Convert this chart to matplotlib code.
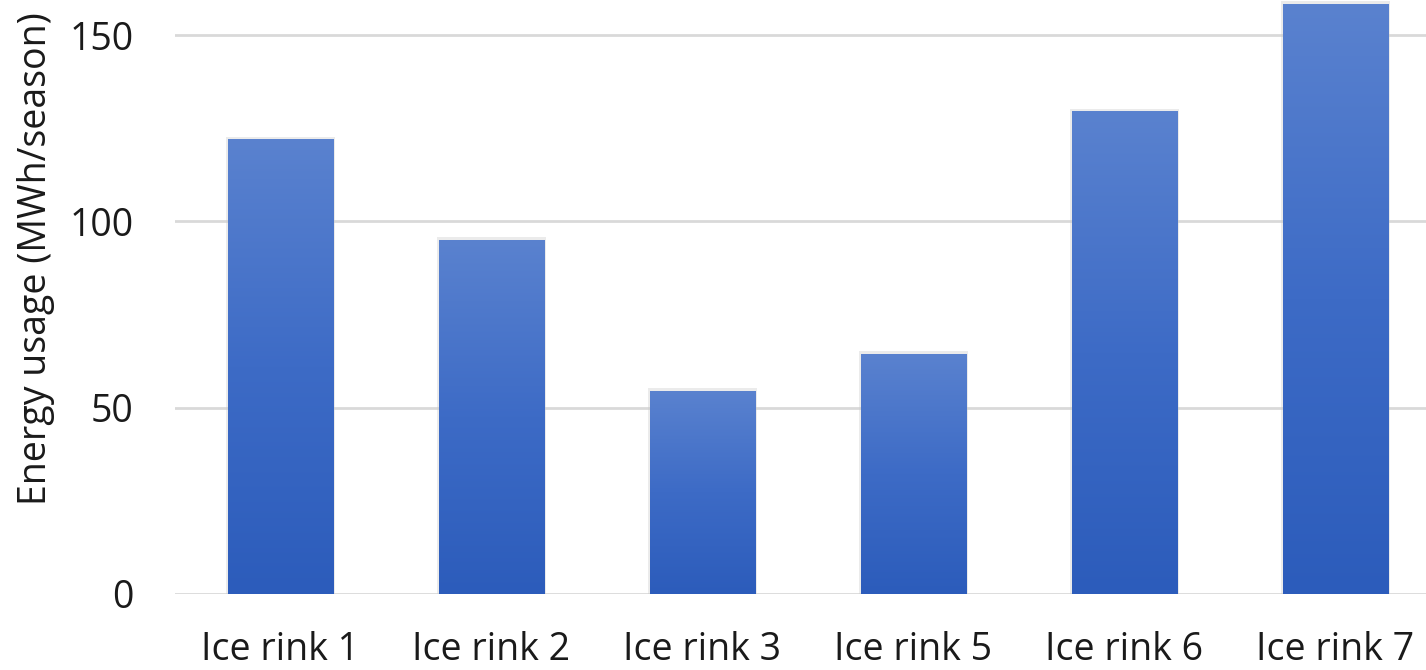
import numpy as np
import matplotlib.pyplot as plt
from matplotlib.colors import LinearSegmentedColormap

rinks = ["Ice rink 1", "Ice rink 2", "Ice rink 3", "Ice rink 5", "Ice rink 6", "Ice rink 7"]
energy = [122, 95, 54.5, 64.5, 129.5, 158.3]
yticks = [0, 50, 100, 150]

plt.rcParams['font.family'] = ['Open Sans', 'DejaVu Sans']

fig = plt.figure(figsize=(14.26, 6.70), dpi=100)
ax = fig.add_axes([175 / 1426, 76 / 670, 1 - 175 / 1426, 1 - 76 / 670])

grad = LinearSegmentedColormap.from_list("bar_grad", ["#2c5cbb", "#3d6bc6", "#5a82cf"])
width = 0.5
x = np.arange(len(rinks))
bars = ax.bar(x, energy, width=width, color="none", zorder=3)
ramp = np.linspace(0, 1, 256).reshape(-1, 1)
for b in bars:
    x0, y0 = b.get_x(), b.get_y()
    w, h = b.get_width(), b.get_height()
    # faint shadow behind each bar
    ax.add_patch(plt.Rectangle((x0 - 0.008, y0), w + 0.016, h + 0.7,
                               color="#c8c8c8", alpha=0.35, zorder=2, lw=0))
    im = ax.imshow(ramp, cmap=grad, origin="lower", aspect="auto",
                   extent=(x0, x0 + w, y0, y0 + h), zorder=3)
    im.set_clip_path(b)

ax.set_xlim(-0.5, 5.43)
ax.set_ylim(0, 159.4)
ax.set_yticks(yticks)
ax.set_xticks(x)
ax.set_xticklabels(rinks)
ax.grid(axis="y", color="#d9d9d9", linewidth=2, zorder=0)
ax.set_axisbelow(True)
for s in ax.spines.values():
    s.set_visible(False)
ax.tick_params(axis="both", length=0, labelsize=27, colors="#1a1a1a")
ax.tick_params(axis="y", pad=30)
ax.tick_params(axis="x", pad=27)
ax.set_ylabel("Energy usage (MWh/season)", fontsize=27, color="#1a1a1a")
ax.yaxis.set_label_coords(-0.096, 0.564)

fig.savefig("out.png", dpi=100)
